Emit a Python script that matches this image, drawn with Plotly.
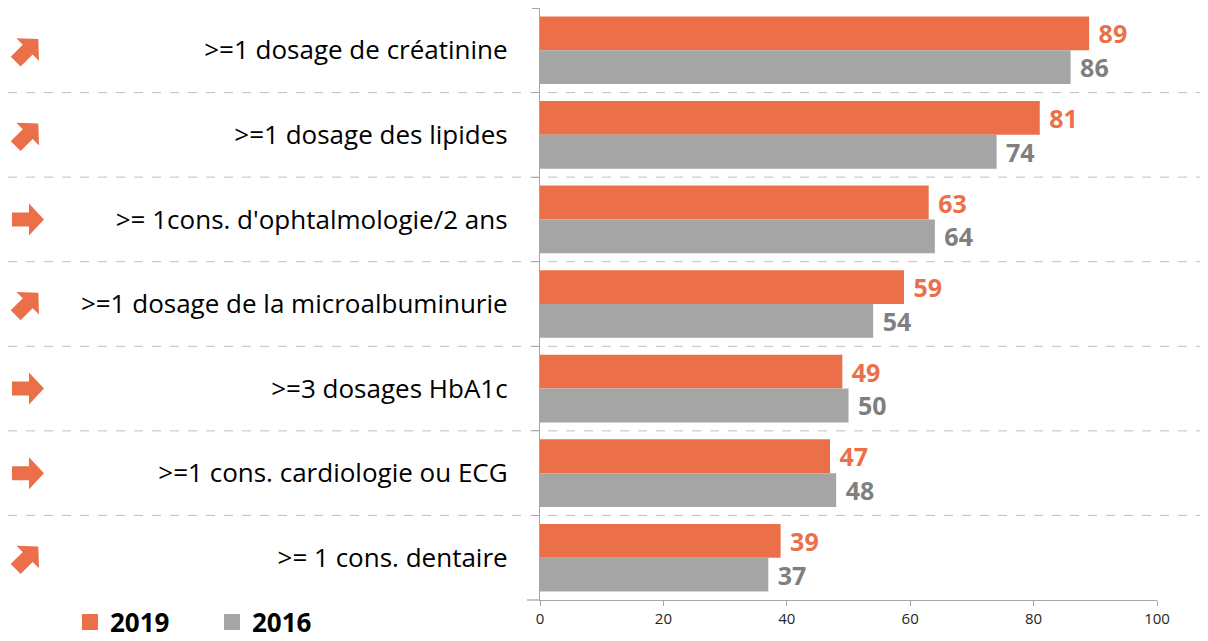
import math
import plotly.graph_objects as go

# ---- data ----
categories = [
    ">=1 dosage de créatinine",
    ">=1 dosage des lipides",
    ">= 1cons. d'ophtalmologie/2 ans",
    ">=1 dosage de la microalbuminurie",
    ">=3 dosages HbA1c",
    ">=1 cons. cardiologie ou ECG",
    ">= 1 cons. dentaire",
]
values_2019 = [89, 81, 63, 59, 49, 47, 39]
values_2016 = [86, 74, 64, 54, 50, 48, 37]
trends = ["up", "up", "flat", "up", "flat", "flat", "up"]
x_ticks = [0, 20, 40, 60, 80, 100]

ORANGE = "#EB7049"
GRAY = "#A5A5A5"
LABEL_GRAY = "#7F7F7F"
AXIS_GRAY = "#A6A6A6"
FONT = "Open Sans"

# the page body adds an 8px offset; figure is sized so plot lands where the reference has it
OFF = 8
W, H = 1200, 633
ML, MR, MT, MB = 532, 51, 0, 41
PW = W - ML - MR
PH = H - MT - MB


def px_to_paper_x(px):
    return (px - OFF - ML) / PW


def px_to_paper_y(py):
    return (H - MB - (py - OFF)) / PH


fig = go.Figure()
fig.add_trace(go.Bar(
    y=categories, x=values_2019, orientation="h", name="2019", showlegend=False,
    marker=dict(color=ORANGE, line=dict(width=0)),
    texttemplate="\u00a0%{x}", textposition="outside", cliponaxis=False,
    constraintext="none",
    textfont=dict(family=FONT, size=25, color=ORANGE, weight=700),
))
fig.add_trace(go.Bar(
    y=categories, x=values_2016, orientation="h", name="2016", showlegend=False,
    marker=dict(color=GRAY, line=dict(width=0)),
    texttemplate="\u00a0%{x}", textposition="outside", cliponaxis=False,
    constraintext="none",
    textfont=dict(family=FONT, size=25, color=LABEL_GRAY, weight=700),
))
# legend entries (square swatches)
for name, col in [("2019", ORANGE), ("2016", GRAY)]:
    fig.add_trace(go.Scatter(
        x=[None], y=[None], mode="markers", name=name,
        marker=dict(symbol="square", size=18, color=col),
    ))

shapes = []
# dashed separators between categories
for k in range(len(categories) - 1):
    shapes.append(dict(
        type="line", xref="paper", yref="y",
        x0=px_to_paper_x(8), x1=px_to_paper_x(1208), y0=k + 0.5, y1=k + 0.5,
        line=dict(color="#BFBFBF", width=1, dash="dash"), layer="below",
    ))
# x axis line extension left of y axis
shapes.append(dict(
    type="line", xref="paper", yref="paper",
    x0=px_to_paper_x(527), x1=0, y0=0, y1=0,
    line=dict(color=AXIS_GRAY, width=1.3),
))

# trend arrows
base_arrow = [(-16, 7), (1, 7), (1, 16), (16, 0), (1, -16), (1, -7), (-16, -7)]


def arrow_path(angle_deg):
    a = math.radians(angle_deg)
    pts = [(x * math.cos(a) - y * math.sin(a), x * math.sin(a) + y * math.cos(a)) for x, y in base_arrow]
    return "M " + " L ".join(f"{x:.2f},{y:.2f}" for x, y in pts) + " Z"


for i, t in enumerate(trends):
    up = t == "up"
    shapes.append(dict(
        type="path", xref="paper", yref="y",
        xsizemode="pixel", ysizemode="pixel",
        xanchor=px_to_paper_x(27 if up else 28), yanchor=i,
        path=arrow_path(45 if up else 0),
        fillcolor=ORANGE, line=dict(width=0),
    ))

fig.update_layout(
    width=W, height=H,
    margin=dict(l=ML, r=MR, t=MT, b=MB, autoexpand=False),
    paper_bgcolor="white", plot_bgcolor="white",
    barmode="group", bargap=0.2, bargroupgap=0,
    font=dict(family=FONT, color="black"),
    shapes=shapes,
    showlegend=True,
    legend=dict(
        orientation="h", x=px_to_paper_x(70), y=px_to_paper_y(622),
        xanchor="left", yanchor="middle",
        font=dict(family=FONT, size=26, color="black", weight=700),
        entrywidth=97, traceorder="normal", bgcolor="rgba(0,0,0,0)",
        itemwidth=30,
    ),
    xaxis=dict(
        range=[0, 100], tickvals=x_ticks, showgrid=False, zeroline=False,
        showline=True, linecolor=AXIS_GRAY, linewidth=1.3,
        ticks="outside", ticklen=5, tickcolor=AXIS_GRAY, tickwidth=1.3,
        tickfont=dict(family=FONT, size=15, color="#262626"),
    ),
    yaxis=dict(
        type="category", categoryorder="array", categoryarray=categories,
        range=[len(categories) - 0.5, -0.5],
        showgrid=False, zeroline=False,
        showline=True, linecolor=AXIS_GRAY, linewidth=1.3,
        ticks="outside", tickson="boundaries", ticklen=7,
        tickcolor=AXIS_GRAY, tickwidth=1.3,
        ticklabelstandoff=26,
        tickfont=dict(family=FONT, size=26, color="black"),
    ),
)

fig.write_html("out.html")
